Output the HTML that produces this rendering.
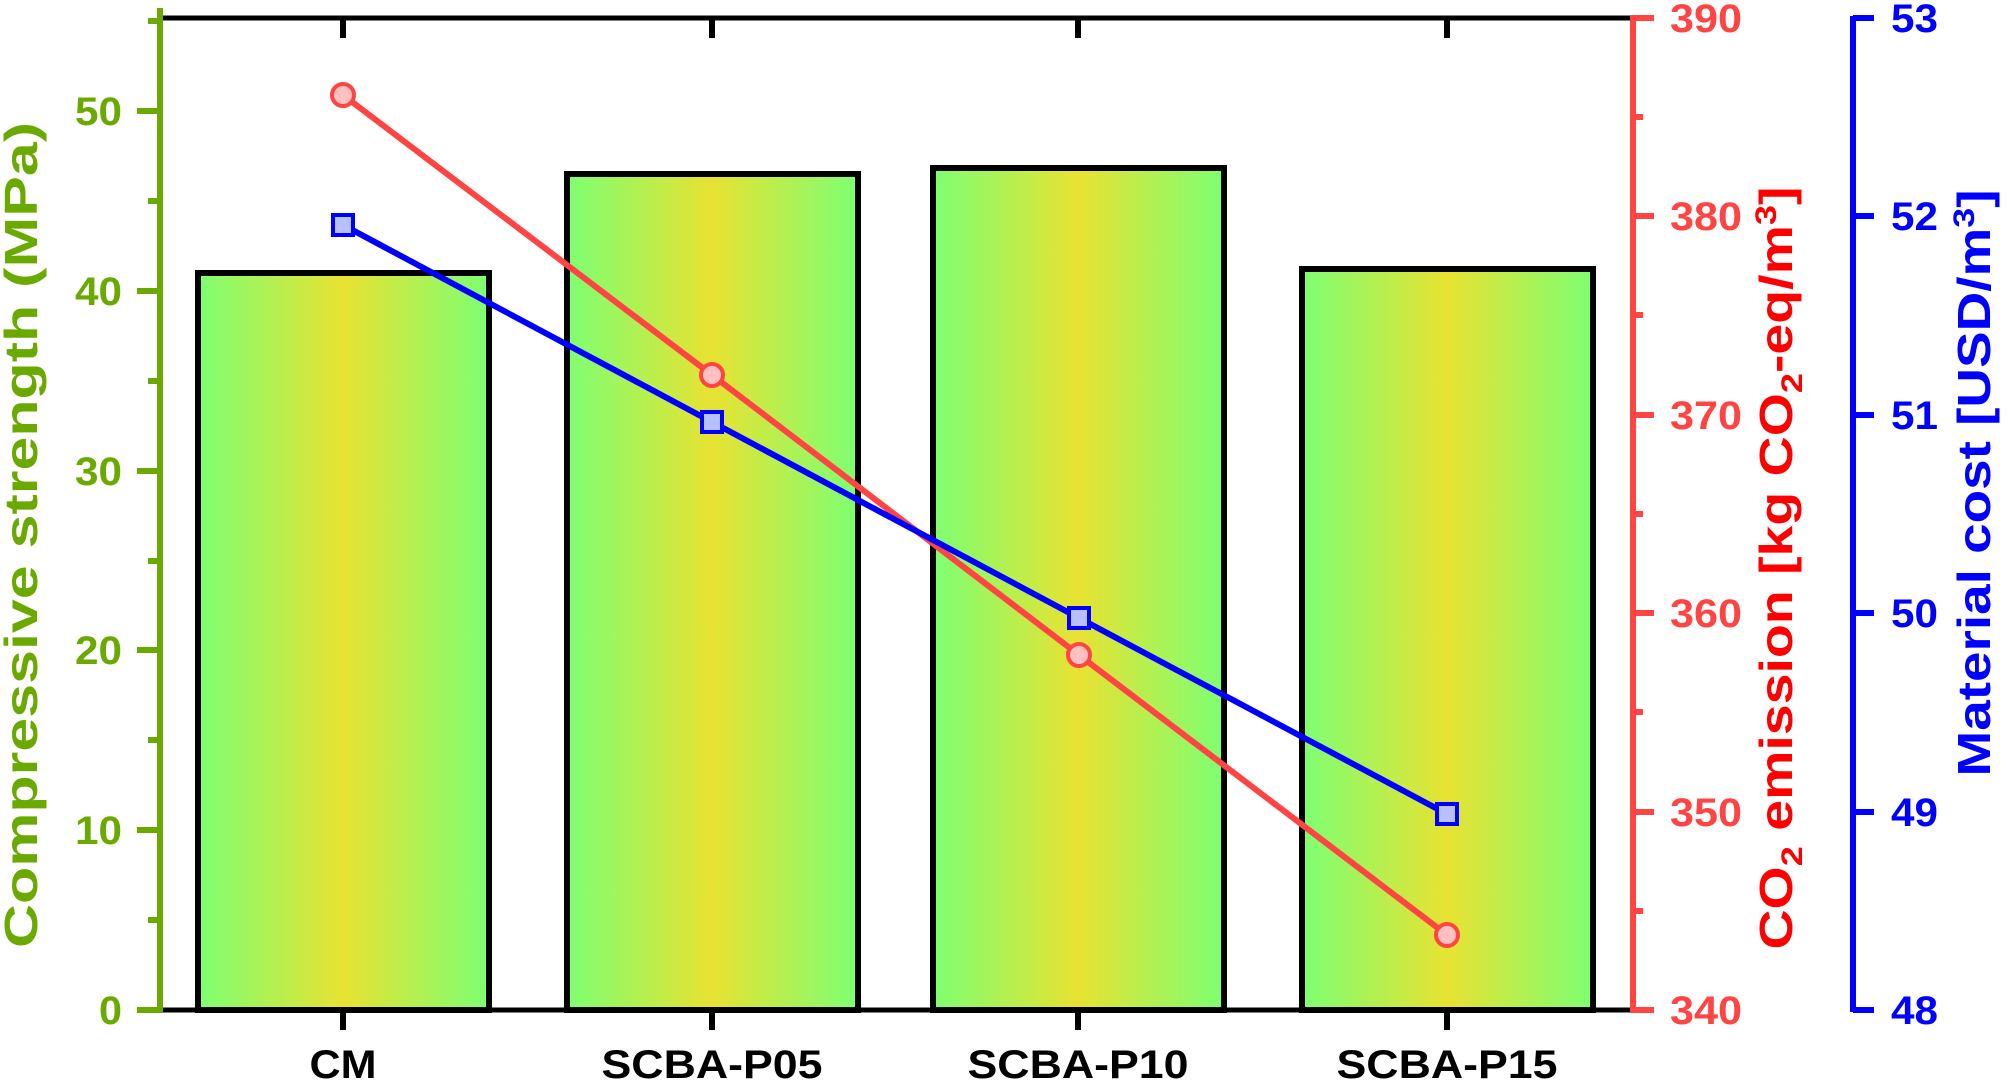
<!DOCTYPE html>
<html><head><meta charset="utf-8"><style>
html,body{margin:0;padding:0;background:#fff;}
svg{display:block;}
text{font-family:"Liberation Sans",Arial,sans-serif;font-weight:bold;}
</style></head><body>
<svg width="2008" height="1084" viewBox="0 0 2008 1084" xmlns="http://www.w3.org/2000/svg">
<defs>
<linearGradient id="g" x1="0" x2="1" y1="0" y2="0">
<stop offset="0" stop-color="#7dff72"/>
<stop offset="0.5" stop-color="#e8e232"/>
<stop offset="1" stop-color="#7dff72"/>
</linearGradient>
</defs>
<g stroke="#000" stroke-width="6" fill="url(#g)">
<rect x="198" y="273" width="291" height="737"/>
<rect x="567" y="174" width="291" height="836"/>
<rect x="933" y="168" width="291" height="842"/>
<rect x="1302" y="269" width="291" height="741"/>
</g>
<line x1="159" y1="18" x2="1634" y2="18" stroke="#000" stroke-width="5"/>
<line x1="159" y1="1010" x2="1634" y2="1010" stroke="#000" stroke-width="5"/>
<g stroke="#000" stroke-width="6">
<line x1="343" y1="18" x2="343" y2="38"/><line x1="712" y1="18" x2="712" y2="38"/><line x1="1078" y1="18" x2="1078" y2="38"/><line x1="1447" y1="18" x2="1447" y2="38"/>
<line x1="343" y1="1010" x2="343" y2="1030"/><line x1="712" y1="1010" x2="712" y2="1030"/><line x1="1078" y1="1010" x2="1078" y2="1030"/><line x1="1447" y1="1010" x2="1447" y2="1030"/>
</g>
<g font-size="40" text-anchor="middle" fill="#000" lengthAdjust="spacingAndGlyphs">
<text x="343" y="1078" textLength="67" lengthAdjust="spacingAndGlyphs">CM</text><text x="712" y="1078" textLength="221" lengthAdjust="spacingAndGlyphs">SCBA-P05</text><text x="1078" y="1078" textLength="221" lengthAdjust="spacingAndGlyphs">SCBA-P10</text><text x="1447" y="1078" textLength="221" lengthAdjust="spacingAndGlyphs">SCBA-P15</text>
</g>
<g stroke="#6aaa00" stroke-width="6">
<line x1="160" y1="8" x2="160" y2="1012"/>
<line x1="137" y1="1010" x2="160" y2="1010"/><line x1="137" y1="830" x2="160" y2="830"/><line x1="137" y1="650" x2="160" y2="650"/><line x1="137" y1="471" x2="160" y2="471"/><line x1="137" y1="291" x2="160" y2="291"/><line x1="137" y1="111" x2="160" y2="111"/>
<line x1="148" y1="920" x2="160" y2="920"/><line x1="148" y1="740" x2="160" y2="740"/><line x1="148" y1="561" x2="160" y2="561"/><line x1="148" y1="381" x2="160" y2="381"/><line x1="148" y1="201" x2="160" y2="201"/><line x1="148" y1="21" x2="160" y2="21"/>
</g>
<g font-size="40" text-anchor="end" fill="#6aaa00">
<text x="122" y="1024" textLength="23" lengthAdjust="spacingAndGlyphs">0</text><text x="122" y="844" textLength="47" lengthAdjust="spacingAndGlyphs">10</text><text x="122" y="664" textLength="47" lengthAdjust="spacingAndGlyphs">20</text><text x="122" y="485" textLength="47" lengthAdjust="spacingAndGlyphs">30</text><text x="122" y="305" textLength="47" lengthAdjust="spacingAndGlyphs">40</text><text x="122" y="125" textLength="47" lengthAdjust="spacingAndGlyphs">50</text>
</g>
<text transform="translate(37,535) rotate(-90)" font-size="46" text-anchor="middle" fill="#6aaa00" textLength="826" lengthAdjust="spacingAndGlyphs">Compressive strength (MPa)</text>
<g stroke="#ff4444" stroke-width="6">
<line x1="1633" y1="16" x2="1633" y2="1012"/>
<line x1="1633" y1="1010" x2="1654" y2="1010"/><line x1="1633" y1="812" x2="1654" y2="812"/><line x1="1633" y1="613" x2="1654" y2="613"/><line x1="1633" y1="415" x2="1654" y2="415"/><line x1="1633" y1="216" x2="1654" y2="216"/><line x1="1633" y1="18" x2="1654" y2="18"/>
<line x1="1633" y1="911" x2="1643" y2="911"/><line x1="1633" y1="712" x2="1643" y2="712"/><line x1="1633" y1="514" x2="1643" y2="514"/><line x1="1633" y1="315" x2="1643" y2="315"/><line x1="1633" y1="117" x2="1643" y2="117"/>
</g>
<g font-size="40" fill="#ff4444">
<text x="1670" y="1024" textLength="72" lengthAdjust="spacingAndGlyphs">340</text><text x="1670" y="826" textLength="72" lengthAdjust="spacingAndGlyphs">350</text><text x="1670" y="627" textLength="72" lengthAdjust="spacingAndGlyphs">360</text><text x="1670" y="429" textLength="72" lengthAdjust="spacingAndGlyphs">370</text><text x="1670" y="230" textLength="72" lengthAdjust="spacingAndGlyphs">380</text><text x="1670" y="32" textLength="72" lengthAdjust="spacingAndGlyphs">390</text>
</g>
<text transform="translate(1792,568) rotate(-90)" font-size="46" text-anchor="middle" fill="#ff0000" textLength="763" lengthAdjust="spacingAndGlyphs">CO<tspan font-size="30" dy="10">2</tspan><tspan dy="-10"> emission [kg CO</tspan><tspan font-size="30" dy="10">2</tspan><tspan dy="-10">-eq/m</tspan><tspan font-size="30" dy="-16">3</tspan><tspan dy="16">]</tspan></text>
<g stroke="#0000ff" stroke-width="6">
<line x1="1853" y1="16" x2="1853" y2="1012"/>
<line x1="1853" y1="1010" x2="1874" y2="1010"/><line x1="1853" y1="812" x2="1874" y2="812"/><line x1="1853" y1="613" x2="1874" y2="613"/><line x1="1853" y1="415" x2="1874" y2="415"/><line x1="1853" y1="216" x2="1874" y2="216"/><line x1="1853" y1="18" x2="1874" y2="18"/>
</g>
<g font-size="40" fill="#0000ff">
<text x="1891" y="1024" textLength="47" lengthAdjust="spacingAndGlyphs">48</text><text x="1891" y="826" textLength="47" lengthAdjust="spacingAndGlyphs">49</text><text x="1891" y="627" textLength="47" lengthAdjust="spacingAndGlyphs">50</text><text x="1891" y="429" textLength="47" lengthAdjust="spacingAndGlyphs">51</text><text x="1891" y="230" textLength="47" lengthAdjust="spacingAndGlyphs">52</text><text x="1891" y="32" textLength="47" lengthAdjust="spacingAndGlyphs">53</text>
</g>
<text transform="translate(1990,483) rotate(-90)" font-size="46" text-anchor="middle" fill="#0000ff" textLength="587" lengthAdjust="spacingAndGlyphs">Material cost [USD/m<tspan font-size="30" dy="-16">3</tspan><tspan dy="16">]</tspan></text>
<polyline points="343,95 712,375 1079,655 1447,935" fill="none" stroke="#ff4444" stroke-width="6"/>
<polyline points="343,225 712,422 1079,618 1447,814" fill="none" stroke="#0000ff" stroke-width="6"/>
<g fill="#ffc0c0" stroke="#ff4444" stroke-width="4">
<circle cx="343" cy="95" r="11"/><circle cx="712" cy="375" r="11"/><circle cx="1079" cy="655" r="11"/><circle cx="1447" cy="935" r="11"/>
</g>
<g fill="#b8c0ff" stroke="#0000ff" stroke-width="4">
<rect x="333" y="215" width="20" height="20"/><rect x="702" y="412" width="20" height="20"/><rect x="1069" y="608" width="20" height="20"/><rect x="1437" y="804" width="20" height="20"/>
</g>
</svg>
</body></html>
